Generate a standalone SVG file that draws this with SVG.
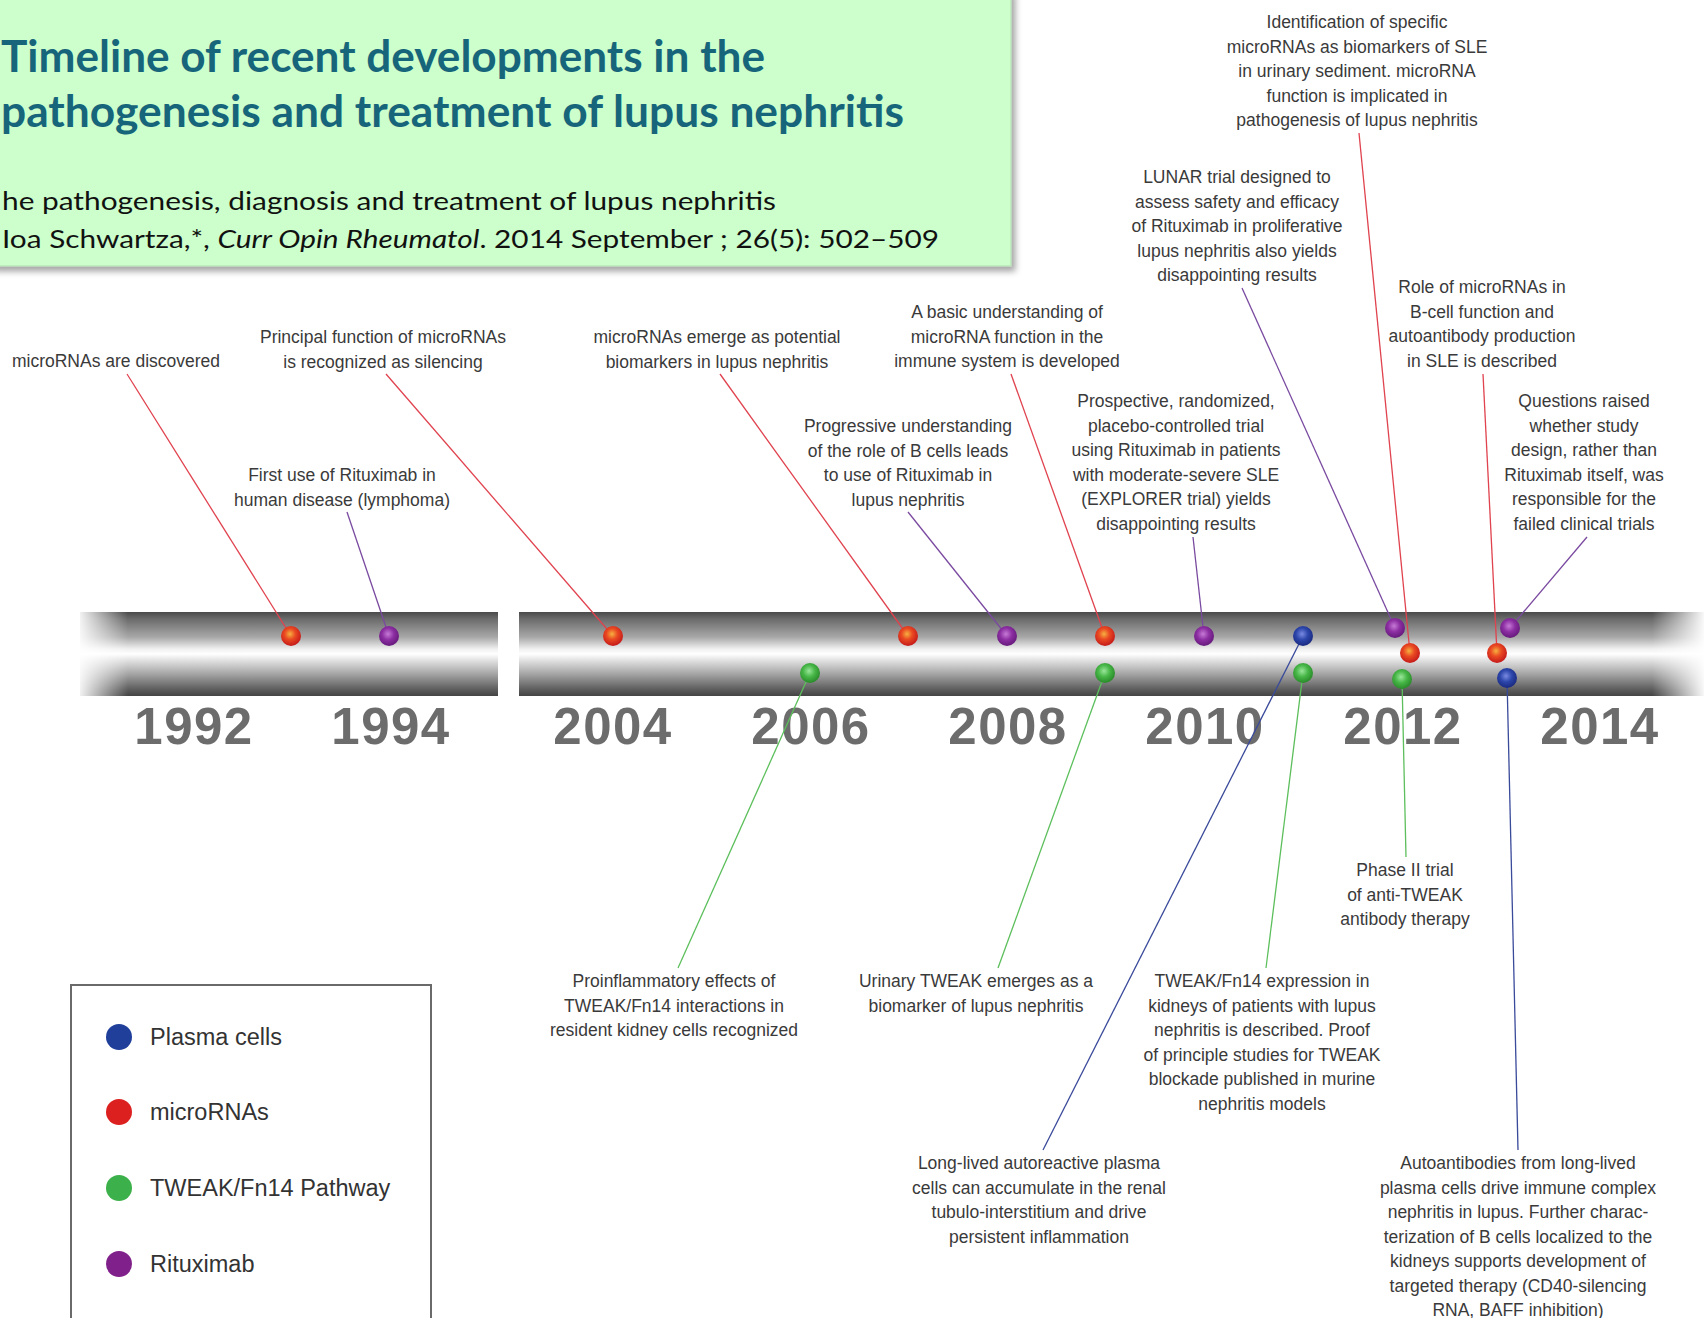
<svg xmlns="http://www.w3.org/2000/svg" width="1704" height="1318" viewBox="0 0 1704 1318">
<style>
.lbl{font-family:"Liberation Sans",Arial,sans-serif;font-size:17.5px;fill:#3a3a3a;text-anchor:middle}
.yr{font-family:"Liberation Sans",Arial,sans-serif;font-size:51px;font-weight:bold;fill:#6c6c6c;text-anchor:middle;letter-spacing:1.5px}
.leg{font-family:"Liberation Sans",Arial,sans-serif;font-size:23.5px;fill:#333}
.c{fill:none;stroke-width:1.3}
.r{stroke:#e0424e}.p{stroke:#7a4aa0}.g{stroke:#5cbf5c}.b{stroke:#3a4a9a}
.tt{font-family:Lato,"Open Sans",sans-serif;font-weight:bold;font-size:44px;fill:#17657a}
.st{font-family:Lato,"Open Sans",sans-serif;font-size:25px;fill:#111}
</style>
<defs>
<filter id="sh" x="-5%" y="-5%" width="115%" height="120%">
<feDropShadow dx="4" dy="5" stdDeviation="3" flood-color="#000" flood-opacity="0.35"/>
</filter>
<linearGradient id="bar" x1="0" y1="0" x2="0" y2="1">
<stop offset="0" stop-color="#4a4a4a"/>
<stop offset="0.08" stop-color="#6a6a6a"/>
<stop offset="0.3" stop-color="#a8a8a8"/>
<stop offset="0.44" stop-color="#f0f0f0"/>
<stop offset="0.5" stop-color="#ffffff"/>
<stop offset="0.55" stop-color="#ebebeb"/>
<stop offset="0.75" stop-color="#a0a0a0"/>
<stop offset="0.93" stop-color="#5a5a5a"/>
<stop offset="1" stop-color="#444"/>
</linearGradient>
<linearGradient id="fadeL" x1="0" y1="0" x2="1" y2="0">
<stop offset="0" stop-color="#fff" stop-opacity="1"/>
<stop offset="1" stop-color="#fff" stop-opacity="0"/>
</linearGradient>
<linearGradient id="fadeR" x1="0" y1="0" x2="1" y2="0">
<stop offset="0" stop-color="#fff" stop-opacity="0"/>
<stop offset="1" stop-color="#fff" stop-opacity="1"/>
</linearGradient>
<radialGradient id="dR" cx="0.45" cy="0.4" r="0.6"><stop offset="0" stop-color="#f6b040"/><stop offset="0.45" stop-color="#ea4a22"/><stop offset="1" stop-color="#c41a1a"/></radialGradient>
<radialGradient id="dP" cx="0.45" cy="0.4" r="0.6"><stop offset="0" stop-color="#c67ad6"/><stop offset="0.5" stop-color="#8c2ea2"/><stop offset="1" stop-color="#661a7c"/></radialGradient>
<radialGradient id="dG" cx="0.45" cy="0.4" r="0.6"><stop offset="0" stop-color="#9ae69a"/><stop offset="0.5" stop-color="#46b646"/><stop offset="1" stop-color="#2a8a2a"/></radialGradient>
<radialGradient id="dB" cx="0.45" cy="0.4" r="0.6"><stop offset="0" stop-color="#7a8ae2"/><stop offset="0.5" stop-color="#2c46aa"/><stop offset="1" stop-color="#1a2a80"/></radialGradient>
</defs>
<rect width="1704" height="1318" fill="#fff"/>

<g id="title-box">
<rect x="-10" y="-10" width="1021" height="276" fill="#ccffcc" stroke="#b0dcb0" stroke-width="1" filter="url(#sh)"/>
<text class="tt" x="1" y="72" textLength="764" lengthAdjust="spacingAndGlyphs">Timeline of recent developments in the</text>
<text class="tt" x="1" y="127" textLength="903" lengthAdjust="spacingAndGlyphs">pathogenesis and treatment of lupus nephritis</text>
<text class="st" x="2" y="210" textLength="774" lengthAdjust="spacingAndGlyphs">he pathogenesis, diagnosis and treatment of lupus nephritis</text>
<text class="st" x="2" y="248" textLength="937" lengthAdjust="spacingAndGlyphs">Ioa Schwartza,*, <tspan font-style="italic">Curr Opin Rheumatol</tspan>. 2014 September ; 26(5): 502–509</text>
</g>

<g id="timeline-bar">
<rect x="80" y="612" width="418" height="84" fill="url(#bar)"/>
<rect x="519" y="612" width="1185" height="84" fill="url(#bar)"/>
<rect x="76" y="610" width="52" height="88" fill="url(#fadeL)"/>
<rect x="1652" y="610" width="54" height="88" fill="url(#fadeR)"/>
</g>

<g id="years">
<text class="yr" x="194" y="744">1992</text>
<text class="yr" x="391" y="744">1994</text>
<text class="yr" x="613" y="744">2004</text>
<text class="yr" x="811" y="744">2006</text>
<text class="yr" x="1008" y="744">2008</text>
<text class="yr" x="1205" y="744">2010</text>
<text class="yr" x="1403" y="744">2012</text>
<text class="yr" x="1600" y="744">2014</text>
</g>

<g id="connectors">
<line class="c r" x1="127" y1="374" x2="291" y2="636"/>
<line class="c r" x1="386" y1="374" x2="613" y2="636"/>
<line class="c p" x1="347" y1="512" x2="389" y2="636"/>
<line class="c r" x1="720" y1="374" x2="908" y2="636"/>
<line class="c r" x1="1011" y1="374" x2="1105" y2="636"/>
<line class="c p" x1="908" y1="512" x2="1007" y2="636"/>
<line class="c p" x1="1193" y1="537" x2="1204" y2="636"/>
<line class="c p" x1="1242" y1="288" x2="1395" y2="628"/>
<line class="c r" x1="1359" y1="133" x2="1410" y2="653"/>
<line class="c r" x1="1483" y1="374" x2="1497" y2="653"/>
<line class="c p" x1="1587" y1="537" x2="1510" y2="628"/>
<line class="c g" x1="678" y1="968" x2="810" y2="673"/>
<line class="c g" x1="998" y1="968" x2="1105" y2="673"/>
<line class="c b" x1="1043" y1="1150" x2="1303" y2="636"/>
<line class="c g" x1="1266" y1="968" x2="1303" y2="673"/>
<line class="c g" x1="1406" y1="857" x2="1402" y2="679"/>
<line class="c b" x1="1518" y1="1150" x2="1507" y2="678"/>
</g>

<g id="dots">
<circle cx="291" cy="636" r="10" fill="url(#dR)"/>
<circle cx="389" cy="636" r="10" fill="url(#dP)"/>
<circle cx="613" cy="636" r="10" fill="url(#dR)"/>
<circle cx="908" cy="636" r="10" fill="url(#dR)"/>
<circle cx="1007" cy="636" r="10" fill="url(#dP)"/>
<circle cx="1105" cy="636" r="10" fill="url(#dR)"/>
<circle cx="1204" cy="636" r="10" fill="url(#dP)"/>
<circle cx="1303" cy="636" r="10" fill="url(#dB)"/>
<circle cx="1395" cy="628" r="10" fill="url(#dP)"/>
<circle cx="1410" cy="653" r="10" fill="url(#dR)"/>
<circle cx="1497" cy="653" r="10" fill="url(#dR)"/>
<circle cx="1510" cy="628" r="10" fill="url(#dP)"/>
<circle cx="810" cy="673" r="10" fill="url(#dG)"/>
<circle cx="1105" cy="673" r="10" fill="url(#dG)"/>
<circle cx="1303" cy="673" r="10" fill="url(#dG)"/>
<circle cx="1402" cy="679" r="10" fill="url(#dG)"/>
<circle cx="1507" cy="678" r="10" fill="url(#dB)"/>
</g>

<g id="n1"><text class="lbl" x="116" y="367">microRNAs are discovered</text></g>
<g id="n2"><text class="lbl" x="383" y="343">Principal function of microRNAs<tspan x="383" dy="24.5">is recognized as silencing</tspan></text></g>
<g id="n3"><text class="lbl" x="342" y="481">First use of Rituximab in<tspan x="342" dy="24.5">human disease (lymphoma)</tspan></text></g>
<g id="n4"><text class="lbl" x="717" y="343">microRNAs emerge as potential<tspan x="717" dy="24.5">biomarkers in lupus nephritis</tspan></text></g>
<g id="n5"><text class="lbl" x="1007" y="318">A basic understanding of<tspan x="1007" dy="24.5">microRNA function in the</tspan><tspan x="1007" dy="24.5">immune system is developed</tspan></text></g>
<g id="n6"><text class="lbl" x="908" y="432">Progressive understanding<tspan x="908" dy="24.5">of the role of B cells leads</tspan><tspan x="908" dy="24.5">to use of Rituximab in</tspan><tspan x="908" dy="24.5">lupus nephritis</tspan></text></g>
<g id="n7"><text class="lbl" x="1176" y="407">Prospective, randomized,<tspan x="1176" dy="24.5">placebo-controlled trial</tspan><tspan x="1176" dy="24.5">using Rituximab in patients</tspan><tspan x="1176" dy="24.5">with moderate-severe SLE</tspan><tspan x="1176" dy="24.5">(EXPLORER trial) yields</tspan><tspan x="1176" dy="24.5">disappointing results</tspan></text></g>
<g id="n8"><text class="lbl" x="1237" y="183">LUNAR trial designed to<tspan x="1237" dy="24.5">assess safety and efficacy</tspan><tspan x="1237" dy="24.5">of Rituximab in proliferative</tspan><tspan x="1237" dy="24.5">lupus nephritis also yields</tspan><tspan x="1237" dy="24.5">disappointing results</tspan></text></g>
<g id="n9"><text class="lbl" x="1357" y="28">Identification of specific<tspan x="1357" dy="24.5">microRNAs as biomarkers of SLE</tspan><tspan x="1357" dy="24.5">in urinary sediment. microRNA</tspan><tspan x="1357" dy="24.5">function is implicated in</tspan><tspan x="1357" dy="24.5">pathogenesis of lupus nephritis</tspan></text></g>
<g id="n10"><text class="lbl" x="1482" y="293">Role of microRNAs in<tspan x="1482" dy="24.5">B-cell function and</tspan><tspan x="1482" dy="24.5">autoantibody production</tspan><tspan x="1482" dy="24.5">in SLE is described</tspan></text></g>
<g id="n11"><text class="lbl" x="1584" y="407">Questions raised<tspan x="1584" dy="24.5">whether study</tspan><tspan x="1584" dy="24.5">design, rather than</tspan><tspan x="1584" dy="24.5">Rituximab itself, was</tspan><tspan x="1584" dy="24.5">responsible for the</tspan><tspan x="1584" dy="24.5">failed clinical trials</tspan></text></g>
<g id="n12"><text class="lbl" x="674" y="987">Proinflammatory effects of<tspan x="674" dy="24.5">TWEAK/Fn14 interactions in</tspan><tspan x="674" dy="24.5">resident kidney cells recognized</tspan></text></g>
<g id="n13"><text class="lbl" x="976" y="987">Urinary TWEAK emerges as a<tspan x="976" dy="24.5">biomarker of lupus nephritis</tspan></text></g>
<g id="n14"><text class="lbl" x="1039" y="1169">Long-lived autoreactive plasma<tspan x="1039" dy="24.5">cells can accumulate in the renal</tspan><tspan x="1039" dy="24.5">tubulo-interstitium and drive</tspan><tspan x="1039" dy="24.5">persistent inflammation</tspan></text></g>
<g id="n15"><text class="lbl" x="1262" y="987">TWEAK/Fn14 expression in<tspan x="1262" dy="24.5">kidneys of patients with lupus</tspan><tspan x="1262" dy="24.5">nephritis is described. Proof</tspan><tspan x="1262" dy="24.5">of principle studies for TWEAK</tspan><tspan x="1262" dy="24.5">blockade published in murine</tspan><tspan x="1262" dy="24.5">nephritis models</tspan></text></g>
<g id="n16"><text class="lbl" x="1405" y="876">Phase II trial<tspan x="1405" dy="24.5">of anti-TWEAK</tspan><tspan x="1405" dy="24.5">antibody therapy</tspan></text></g>
<g id="n17"><text class="lbl" x="1518" y="1169">Autoantibodies from long-lived<tspan x="1518" dy="24.5">plasma cells drive immune complex</tspan><tspan x="1518" dy="24.5">nephritis in lupus. Further charac-</tspan><tspan x="1518" dy="24.5">terization of B cells localized to the</tspan><tspan x="1518" dy="24.5">kidneys supports development of</tspan><tspan x="1518" dy="24.5">targeted therapy (CD40-silencing</tspan><tspan x="1518" dy="24.5">RNA, BAFF inhibition)</tspan></text></g>

<g id="legend">
<rect x="71" y="985" width="360" height="345" fill="#fff" stroke="#6a6a6a" stroke-width="2"/>
<circle cx="119" cy="1037" r="13" fill="#1f3f9a"/>
<text class="leg" x="150" y="1045">Plasma cells</text>
<circle cx="119" cy="1112" r="13" fill="#dc2020"/>
<text class="leg" x="150" y="1120">microRNAs</text>
<circle cx="119" cy="1188" r="13" fill="#3cb04a"/>
<text class="leg" x="150" y="1196">TWEAK/Fn14 Pathway</text>
<circle cx="119" cy="1264" r="13" fill="#80208a"/>
<text class="leg" x="150" y="1272">Rituximab</text>
</g>
</svg>
